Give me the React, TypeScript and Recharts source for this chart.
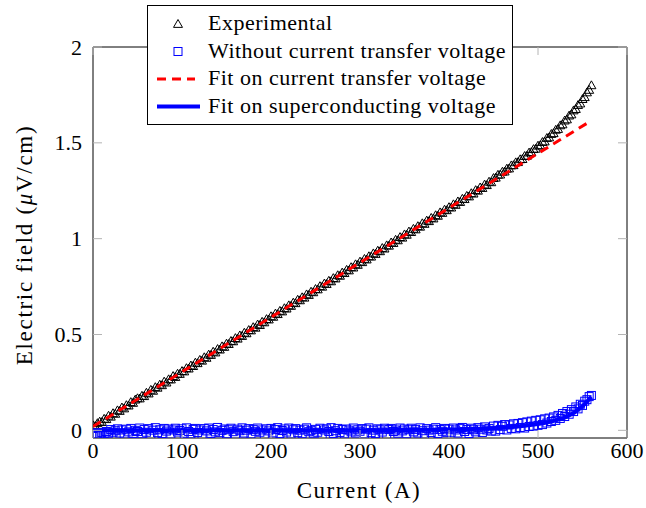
import React from 'react';
import { ComposedChart, Scatter, XAxis, YAxis, Legend, Label } from 'recharts';

const currents = [
  0, 2.5, 5, 7.5, 10, 12.5, 15, 17.5, 20, 22.5, 25, 27.5, 30, 32.5, 35, 37.5, 40, 42.5, 45, 47.5,
  50, 52.5, 55, 57.5, 60, 62.5, 65, 67.5, 70, 72.5, 75, 77.5, 80, 82.5, 85, 87.5, 90, 92.5, 95, 97.5,
  100, 102.5, 105, 107.5, 110, 112.5, 115, 117.5, 120, 122.5, 125, 127.5, 130, 132.5, 135, 137.5, 140, 142.5, 145, 147.5,
  150, 152.5, 155, 157.5, 160, 162.5, 165, 167.5, 170, 172.5, 175, 177.5, 180, 182.5, 185, 187.5, 190, 192.5, 195, 197.5,
  200, 202.5, 205, 207.5, 210, 212.5, 215, 217.5, 220, 222.5, 225, 227.5, 230, 232.5, 235, 237.5, 240, 242.5, 245, 247.5,
  250, 252.5, 255, 257.5, 260, 262.5, 265, 267.5, 270, 272.5, 275, 277.5, 280, 282.5, 285, 287.5, 290, 292.5, 295, 297.5,
  300, 302.5, 305, 307.5, 310, 312.5, 315, 317.5, 320, 322.5, 325, 327.5, 330, 332.5, 335, 337.5, 340, 342.5, 345, 347.5,
  350, 352.5, 355, 357.5, 360, 362.5, 365, 367.5, 370, 372.5, 375, 377.5, 380, 382.5, 385, 387.5, 390, 392.5, 395, 397.5,
  400, 402.5, 405, 407.5, 410, 412.5, 415, 417.5, 420, 422.5, 425, 427.5, 430, 432.5, 435, 437.5, 440, 442.5, 445, 447.5,
  450, 452.5, 455, 457.5, 460, 462.5, 465, 467.5, 470, 472.5, 475, 477.5, 480, 482.5, 485, 487.5, 490, 492.5, 495, 497.5,
  500, 502.5, 505, 507.5, 510, 512.5, 515, 517.5, 520, 522.5, 525, 527.5, 530, 532.5, 535, 537.5, 540, 542.5, 545, 547.5,
  550, 552.5, 555, 557.5, 560,
];

const experimental = [
  0.026, 0.022, 0.037, 0.045, 0.043, 0.060, 0.058, 0.076, 0.071, 0.089, 0.086, 0.104, 0.101, 0.119, 0.114, 0.131, 0.129, 0.147, 0.143, 0.160,
  0.167, 0.166, 0.180, 0.178, 0.196, 0.192, 0.211, 0.206, 0.225, 0.222, 0.238, 0.235, 0.254, 0.249, 0.266, 0.265, 0.283, 0.278, 0.295, 0.294,
  0.309, 0.307, 0.324, 0.322, 0.338, 0.335, 0.353, 0.350, 0.367, 0.363, 0.381, 0.378, 0.395, 0.393, 0.410, 0.406, 0.424, 0.421, 0.438, 0.435,
  0.452, 0.450, 0.466, 0.464, 0.481, 0.478, 0.495, 0.492, 0.509, 0.506, 0.523, 0.521, 0.538, 0.535, 0.552, 0.549, 0.566, 0.563, 0.580, 0.578,
  0.595, 0.592, 0.609, 0.606, 0.623, 0.620, 0.637, 0.635, 0.652, 0.649, 0.666, 0.663, 0.681, 0.678, 0.694, 0.692, 0.709, 0.706, 0.723, 0.720,
  0.737, 0.735, 0.752, 0.749, 0.766, 0.763, 0.780, 0.777, 0.794, 0.792, 0.809, 0.806, 0.823, 0.820, 0.837, 0.834, 0.851, 0.849, 0.866, 0.863,
  0.880, 0.877, 0.894, 0.891, 0.908, 0.906, 0.923, 0.920, 0.937, 0.934, 0.951, 0.948, 0.965, 0.963, 0.980, 0.977, 0.994, 0.991, 1.008, 1.005,
  1.022, 1.020, 1.037, 1.034, 1.051, 1.048, 1.065, 1.062, 1.080, 1.077, 1.094, 1.091, 1.108, 1.105, 1.122, 1.119, 1.137, 1.134, 1.151, 1.148,
  1.164, 1.162, 1.179, 1.176, 1.194, 1.191, 1.208, 1.206, 1.223, 1.220, 1.237, 1.235, 1.253, 1.250, 1.267, 1.264, 1.282, 1.279, 1.297, 1.294,
  1.316, 1.318, 1.333, 1.334, 1.349, 1.350, 1.365, 1.366, 1.382, 1.383, 1.398, 1.399, 1.414, 1.415, 1.431, 1.432, 1.449, 1.451, 1.467, 1.469,
  1.485, 1.487, 1.504, 1.507, 1.525, 1.528, 1.546, 1.550, 1.568, 1.572, 1.591, 1.596, 1.616, 1.622, 1.642, 1.648, 1.669, 1.676, 1.697, 1.705,
  1.728, 1.738, 1.763, 1.776, 1.800,
];

const withoutTransfer = [
  -0.032, -0.028, -0.020, -0.024, -0.012, -0.018, -0.006, -0.015, 0.004, -0.010, -0.002, 0.008, -0.014, 0.002, -0.020, 0.006, -0.008, 0.010, -0.016, 0.000,
  -0.006, 0.012, -0.018, 0.004, -0.010, 0.009, -0.022, 0.001, 0.014, -0.012, 0.003, -0.017, 0.010, -0.004, 0.007, -0.020, 0.002, 0.011, -0.009, -0.001,
  0.008, -0.015, 0.013, -0.006, -0.019, 0.005, 0.010, -0.011, 0.002, -0.023, 0.009, -0.003, 0.012, -0.016, 0.004, -0.008, 0.015, -0.012, 0.000, 0.007,
  -0.018, 0.003, 0.011, -0.007, -0.021, 0.006, -0.002, 0.013, -0.014, 0.001, 0.009, -0.019, 0.005, -0.005, 0.012, -0.010, 0.002, -0.024, 0.008, -0.003,
  0.010, -0.013, 0.004, 0.014, -0.017, -0.001, 0.007, -0.009, 0.012, -0.020, 0.003, 0.009, -0.012, 0.001, -0.018, 0.006, 0.013, -0.007, 0.000, -0.015,
  0.005, -0.010, 0.011, -0.022, 0.002, 0.008, -0.006, 0.014, -0.016, -0.002, 0.010, -0.011, 0.004, -0.019, 0.007, 0.001, -0.008, 0.012, -0.014, 0.003,
  -0.005, 0.009, -0.020, 0.006, 0.013, -0.012, 0.001, -0.017, 0.008, 0.003, -0.009, 0.011, -0.023, 0.004, 0.010, -0.006, 0.002, -0.015, 0.012, -0.003,
  0.007, -0.018, 0.003, 0.011, -0.008, 0.005, -0.014, 0.013, -0.002, -0.021, 0.009, 0.001, -0.011, 0.006, 0.014, -0.016, 0.004, -0.005, 0.010, -0.012,
  0.006, -0.010, 0.012, 0.002, -0.014, 0.009, 0.015, -0.006, 0.004, -0.017, 0.011, 0.003, -0.008, 0.014, 0.006, -0.011, 0.018, 0.002, 0.010, -0.004,
  0.022, -0.004, 0.026, 0.004, 0.021, 0.030, 0.002, 0.028, 0.010, 0.034, 0.008, 0.036, 0.015, 0.040, 0.012, 0.044, 0.020, 0.048, 0.022, 0.052,
  0.026, 0.055, 0.030, 0.060, 0.038, 0.064, 0.046, 0.070, 0.052, 0.078, 0.062, 0.088, 0.072, 0.098, 0.084, 0.108, 0.098, 0.122, 0.112, 0.136,
  0.130, 0.152, 0.160, 0.176, 0.182,
];

const transferFitCurrents = [0, 560];
const transferFitValues = [0.02, 1.616];

const scFitCurrents = [0, 100, 200, 300, 350, 400, 420, 440, 460, 480, 500, 510, 520, 530, 540, 550, 560];
const scFitValues = [0, 0, 0, 0.001, 0.002, 0.004, 0.006, 0.009, 0.014, 0.021, 0.033, 0.041, 0.052, 0.066, 0.09, 0.125, 0.175];

const xTicks = [0, 100, 200, 300, 400, 500, 600];
const yTicks = [0, 0.5, 1, 1.5, 2];

const expData = currents.map((x, i) => ({ x, y: experimental[i] }));
const scData = currents.map((x, i) => ({ x, y: withoutTransfer[i] }));
const transferFit = transferFitCurrents.map((x, i) => ({ x, y: transferFitValues[i] }));
const scFit = scFitCurrents.map((x, i) => ({ x, y: scFitValues[i] }));

const FONT = "'Liberation Serif', 'Times New Roman', serif";
const TICK_GRAY = '#b4b4b4';

const Triangle = (p: any) => {
  const { cx, cy } = p;
  if (cx == null || cy == null) return null;
  const r = 4.5;
  return (
    <polygon
      points={`${cx},${cy - r} ${cx - r},${cy + r * 0.75} ${cx + r},${cy + r * 0.75}`}
      fill="none"
      stroke="#000"
      strokeWidth={1}
    />
  );
};

const Square = (p: any) => {
  const { cx, cy } = p;
  if (cx == null || cy == null) return null;
  const r = 4;
  return <rect x={cx - r} y={cy - r} width={2 * r} height={2 * r} fill="none" stroke="#0000ff" strokeWidth={1} />;
};

const NoShape = () => <g />;

const BottomTick = (p: any) => {
  const { x, y, payload } = p;
  return (
    <g>
      <line x1={x} x2={x} y1={y} y2={y - 8} stroke={TICK_GRAY} strokeWidth={1} />
      <text x={x} y={y + 20} textAnchor="middle" fontFamily={FONT} fontSize={22} fill="#000">
        {payload.value}
      </text>
    </g>
  );
};

const TopTick = (p: any) => {
  const { x, y } = p;
  return <line x1={x} x2={x} y1={y} y2={y + 8} stroke={TICK_GRAY} strokeWidth={1} />;
};

const LeftTick = (p: any) => {
  const { x, y, payload } = p;
  return (
    <g>
      <line x1={x} x2={x + 9} y1={y} y2={y} stroke={TICK_GRAY} strokeWidth={1} />
      <text x={x - 11} y={y + 7.5} textAnchor="end" fontFamily={FONT} fontSize={22} fill="#000">
        {String(payload.value)}
      </text>
    </g>
  );
};

const RightTick = (p: any) => {
  const { x, y } = p;
  return <line x1={x} x2={x - 9} y1={y} y2={y} stroke={TICK_GRAY} strokeWidth={1} />;
};

const legendItems = [
  { key: 'tri', text: 'Experimental' },
  { key: 'sq', text: 'Without current transfer voltage' },
  { key: 'red', text: 'Fit on current transfer voltage' },
  { key: 'blue', text: 'Fit on superconducting voltage' },
];

const renderLegend = () => (
  <svg width={367} height={121} style={{ display: 'block' }}>
    <rect x={0.5} y={0.5} width={365} height={119} fill="#fff" stroke="#000" strokeWidth={1} />
    {legendItems.map((it, i) => {
      const cy = 19 + i * 27.5;
      let marker: React.ReactNode = null;
      if (it.key === 'tri') marker = <Triangle cx={31} cy={cy} />;
      if (it.key === 'sq') marker = <Square cx={31} cy={cy} />;
      if (it.key === 'red')
        marker = <line x1={10} x2={48} y1={cy} y2={cy} stroke="#ff0000" strokeWidth={3} strokeDasharray="9 6" />;
      if (it.key === 'blue') marker = <line x1={10} x2={53} y1={cy} y2={cy} stroke="#0000ff" strokeWidth={4} />;
      return (
        <g key={it.key}>
          {marker}
          <text x={61} y={cy + 6} fontFamily={FONT} fontSize={22} letterSpacing={0.5} fill="#000">
            {it.text}
          </text>
        </g>
      );
    })}
  </svg>
);

export default function App() {
  return (
    <div style={{ position: 'absolute', left: 0, top: 0, width: 646, height: 508, background: '#fff' }}>
      <ComposedChart width={646} height={508} margin={{ top: 46, right: 18, bottom: 69, left: 92 }}>
        <XAxis
          dataKey="x"
          type="number"
          domain={[0, 600]}
          ticks={xTicks}
          height={1}
          tickSize={0}
          tickMargin={0}
          tickLine={false}
          tick={BottomTick}
          axisLine={{ stroke: '#000', strokeWidth: 1 }}
          allowDataOverflow
          interval={0}
        >
          <Label
            content={() => (
              <text x={359} y={498} textAnchor="middle" fontFamily={FONT} fontSize={23} letterSpacing={1.5} fill="#000">
                Current (A)
              </text>
            )}
          />
        </XAxis>
        <XAxis
          xAxisId="top"
          dataKey="x"
          orientation="top"
          type="number"
          domain={[0, 600]}
          ticks={xTicks}
          height={1}
          tickSize={0}
          tickMargin={0}
          tickLine={false}
          tick={TopTick}
          axisLine={{ stroke: '#000', strokeWidth: 1 }}
          allowDataOverflow
          interval={0}
        />
        <YAxis
          dataKey="y"
          type="number"
          domain={[-0.04, 2]}
          ticks={yTicks}
          width={1}
          tickSize={0}
          tickMargin={0}
          tickLine={false}
          tick={LeftTick}
          axisLine={{ stroke: '#000', strokeWidth: 1 }}
          allowDataOverflow
          interval={0}
        >
          <Label
            content={() => (
              <text
                x={0}
                y={0}
                transform="translate(32,245) rotate(-90)"
                textAnchor="middle"
                fontFamily={FONT}
                fontSize={23}
                letterSpacing={1.7}
                fill="#000"
              >
                Electric field (<tspan fontStyle="italic">μ</tspan>V/cm)
              </text>
            )}
          />
        </YAxis>
        <YAxis
          yAxisId="right"
          dataKey="y"
          orientation="right"
          type="number"
          domain={[-0.04, 2]}
          ticks={yTicks}
          width={1}
          tickSize={0}
          tickMargin={0}
          tickLine={false}
          tick={RightTick}
          axisLine={{ stroke: '#000', strokeWidth: 1 }}
          allowDataOverflow
          interval={0}
        />
        <Scatter data={expData} shape={Triangle} isAnimationActive={false} legendType="none" />
        <Scatter data={scData} shape={Square} isAnimationActive={false} legendType="none" />
        <Scatter
          data={transferFit}
          shape={NoShape}
          line={{ stroke: '#ff0000', strokeWidth: 3, strokeDasharray: '9 6' }}
          lineType="joint"
          isAnimationActive={false}
          legendType="none"
        />
        <Scatter
          data={scFit}
          shape={NoShape}
          line={{ stroke: '#0000ff', strokeWidth: 4 }}
          lineType="joint"
          isAnimationActive={false}
          legendType="none"
        />
        <Legend
          layout="vertical"
          align="center"
          verticalAlign="middle"
          content={renderLegend}
          wrapperStyle={{ left: 147, top: 5, width: 367, height: 121 }}
        />
      </ComposedChart>
    </div>
  );
}
